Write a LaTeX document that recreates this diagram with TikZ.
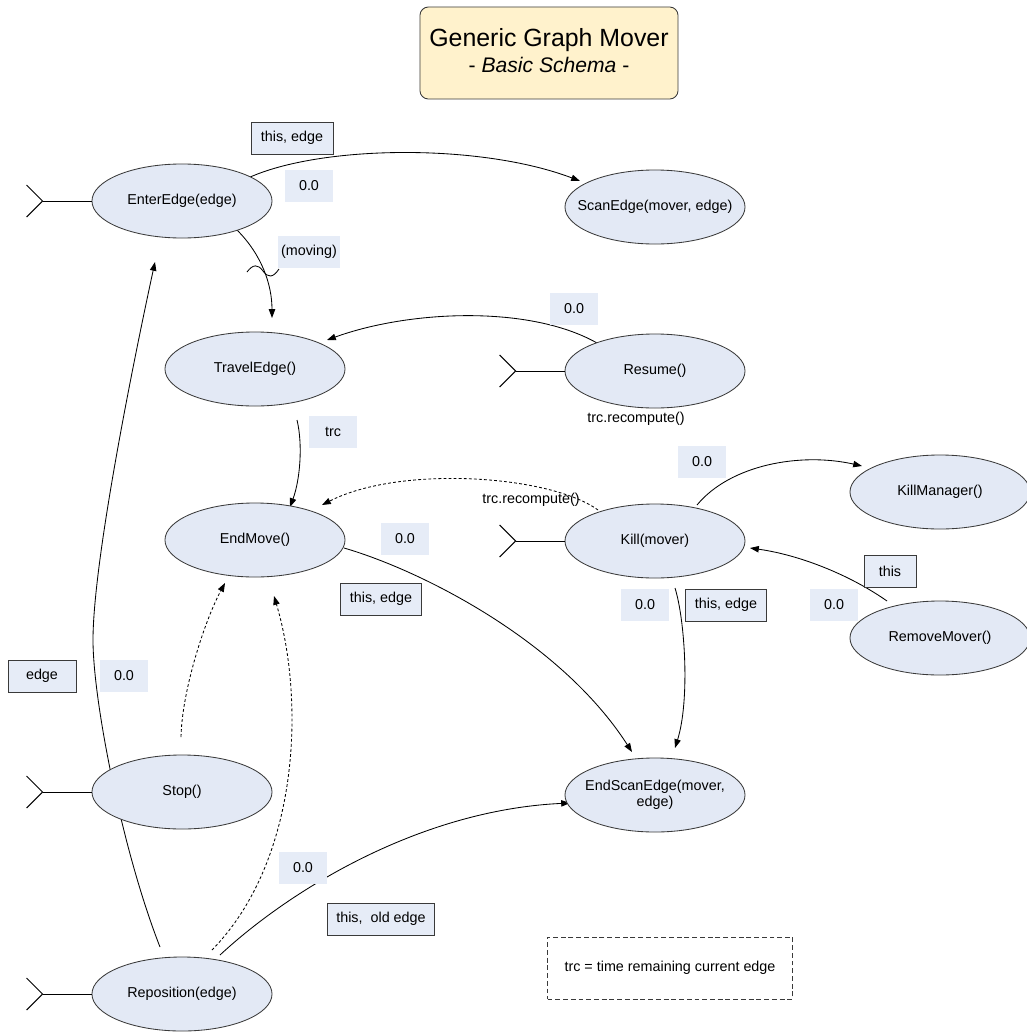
\documentclass[tikz,border=0pt]{standalone}
\usepackage{fontspec}
\setmainfont{Liberation Sans}
\usetikzlibrary{shapes.geometric,arrows.meta,calc,backgrounds}

\definecolor{statefill}{HTML}{E3E9F5}
\definecolor{tagfill}{HTML}{E6ECF7}
\definecolor{titlefill}{HTML}{FFF2CC}
\definecolor{edgegray}{HTML}{3A3A3A}

\tikzset{
  state/.style={ellipse, draw=edgegray, fill=statefill, line width=0.6pt,
    minimum width=4.5cm, minimum height=1.85cm, inner sep=0pt},
  tagbox/.style={fill=tagfill, inner sep=0pt, minimum height=0.8cm},
  tagframe/.style={tagbox, draw=edgegray, line width=0.6pt},
  flow/.style={draw=black, line width=0.6pt, -{Triangle[length=2.2mm,width=1.6mm]}},
  hint/.style={flow, dash pattern=on 2pt off 1.6pt},
  entry/.style={draw=black, line width=0.7pt},
  txt/.style={font=\fontsize{10.2}{12}\selectfont}
}

\newcommand{\zw}[1]{\makebox[0pt]{#1}}

\begin{document}
\begin{tikzpicture}[x=0.025cm, y=-0.025cm, txt]
\useasboundingbox (0,0) rectangle (1026,1032);

% title
\node[draw=edgegray, fill=titlefill, rounded corners=6pt, line width=0.6pt,
      minimum width=6.45cm, minimum height=2.3cm, inner sep=0pt] (title) at (549,53)
  {\begin{tabular}{@{}c@{}}{\fontsize{17.7}{20}\selectfont Generic Graph Mover}\\[4pt]
   {\fontsize{15}{17}\selectfont - \textit{Basic Schema} -}\end{tabular}};

% states
\node[state] (ee)   at (182,201) {\zw{EnterEdge(edge)}};
\node[state] (se)   at (655,207) {\zw{ScanEdge(mover, edge)}};
\node[state] (te)   at (255,369) {\zw{TravelEdge()}};
\node[state] (res)  at (655,371) {\zw{Resume()}};
\node[state] (em)   at (255,540) {\zw{EndMove()}};
\node[state] (kill) at (655,541) {\zw{Kill(mover)}};
\node[state] (km)   at (940,492) {\zw{KillManager()}};
\node[state] (rm)   at (940,638) {\zw{RemoveMover()}};
\node[state] (stop) at (182,792) {\zw{Stop()}};
\node[state] (rep)  at (182,994) {\zw{Reposition(edge)}};
\node[state] (ese)  at (655,795) {\zw{\begin{tabular}{@{}c@{}}EndScanEdge(mover,\\[-1pt] edge)\end{tabular}}};

% entry points
\foreach \n in {ee, res, kill, stop, rep}{
  \coordinate (\n-tip) at ($(\n.west)+(-49,0)$);
  \draw[entry] (\n-tip) -- (\n.west);
  \draw[entry] ($(\n-tip)+(-16,-16)$) -- (\n-tip) -- ($(\n-tip)+(-16,16)$);
}

\begin{scope}[on background layer]
  % EnterEdge -> ScanEdge
  \draw[flow] ($(ee)+(66,-23)$) .. controls (320,145) and (480,143) .. ($(se)+(-75,-26)$);
  % EnterEdge -> TravelEdge (moving)
  \draw[flow] ($(ee)+(55,29)$) .. controls (262,255) and (272,285) .. ($(te)+(17,-51)$);
  % Resume -> TravelEdge
  \draw[flow] ($(res)+(-58,-28)$) .. controls (530,305) and (410,310) .. ($(te)+(72,-29)$);
  % TravelEdge -> EndMove
  \draw[flow] ($(te)+(42,51)$) .. controls (303,445) and (300,480) .. ($(em)+(35,-33)$);
  % Kill -> EndMove (dashed)
  \draw[hint] ($(kill)+(-57,-31)$) .. controls (550,475) and (400,465) .. ($(em)+(67,-35)$);
  % Kill -> KillManager
  \draw[flow] ($(kill)+(42,-36)$) .. controls (730,465) and (800,452) .. ($(km)+(-78,-26)$);
  % RemoveMover -> Kill
  \draw[flow] ($(rm)+(-53,-37)$) .. controls (850,575) and (800,555) .. ($(kill)+(95,7)$);
  % EndMove -> EndScanEdge
  \draw[flow] ($(em)+(89,8)$) .. controls (420,570) and (560,640) .. ($(ese)+(-23,-43)$);
  % Kill -> EndScanEdge
  \draw[flow] ($(kill)+(20,47)$) .. controls (685,620) and (690,700) .. ($(ese)+(20,-47)$);
  % Stop -> EndMove (dashed)
  \draw[hint] ($(stop)+(-1,-55)$) .. controls (182,690) and (205,620) .. ($(em)+(-30,43)$);
  % Reposition -> EndMove (dashed)
  \draw[hint] ($(rep)+(30,-44)$) .. controls (300,860) and (305,700) .. ($(em)+(19,56)$);
  % Reposition -> EnterEdge, the long arc on the left
  \draw[flow] ($(rep)+(-22,-47)$) .. controls (122,850) and (93,700) .. (93,640)
    .. controls (93,560) and (135,354) .. ($(ee)+(-27,61)$);
  % Reposition -> EndScanEdge
  \draw[flow] ($(rep)+(38,-39)$) .. controls (290,890) and (420,810) .. ($(ese)+(-85,8)$);
\end{scope}

% guard mark on the (moving) transition
\draw[line width=0.6pt] (247,272) .. controls (253,264) and (258,264) .. (263,271)
  .. controls (268,278) and (273,278) .. (279,269);

% parameter and delay tags
\node[tagframe, minimum width=2.05cm] (t1) at (292,138) {this, edge};
\node[tagbox, minimum width=1.2cm]    (d1) at (309,186) {0.0};
\node[tagbox, minimum width=1.55cm]   (g1) at (309,252) {(moving)};
\node[tagbox, minimum width=1.22cm]   (d2) at (574,309) {0.0};
\node (r1) at (636,419) {trc.recompute()};
\node[tagbox, minimum width=1.2cm]    (g2) at (333,432) {trc};
\node[tagbox, minimum width=1.22cm]   (d3) at (702,462) {0.0};
\node (r2) at (531,500) {trc.recompute()};
\node[tagbox, minimum width=1.22cm]   (d4) at (405,539) {0.0};
\node[tagframe, minimum width=2.02cm] (t2) at (381,599) {this, edge};
\node[tagframe, minimum width=1.3cm]  (t3) at (890,571) {this};
\node[tagbox, minimum width=1.2cm]    (d5) at (834,605) {0.0};
\node[tagbox, minimum width=1.22cm]   (d6) at (645,605) {0.0};
\node[tagframe, minimum width=2.02cm] (t4) at (726,605) {this, edge};
\node[tagframe, minimum width=1.7cm]  (t5) at (42,676) {edge};
\node[tagbox, minimum width=1.22cm]   (d7) at (124,676) {0.0};
\node[tagbox, minimum width=1.2cm]    (d8) at (303,868) {0.0};
\node[tagframe, minimum width=2.67cm] (t6) at (381,919) {this,\ \ old edge};

% legend
\node[draw=edgegray, line width=0.6pt, dash pattern=on 3.5pt off 2pt,
      minimum width=6.12cm, minimum height=1.55cm, inner sep=0pt] (legend) at (670,968)
  {trc = time remaining current edge};
\end{tikzpicture}
\end{document}
